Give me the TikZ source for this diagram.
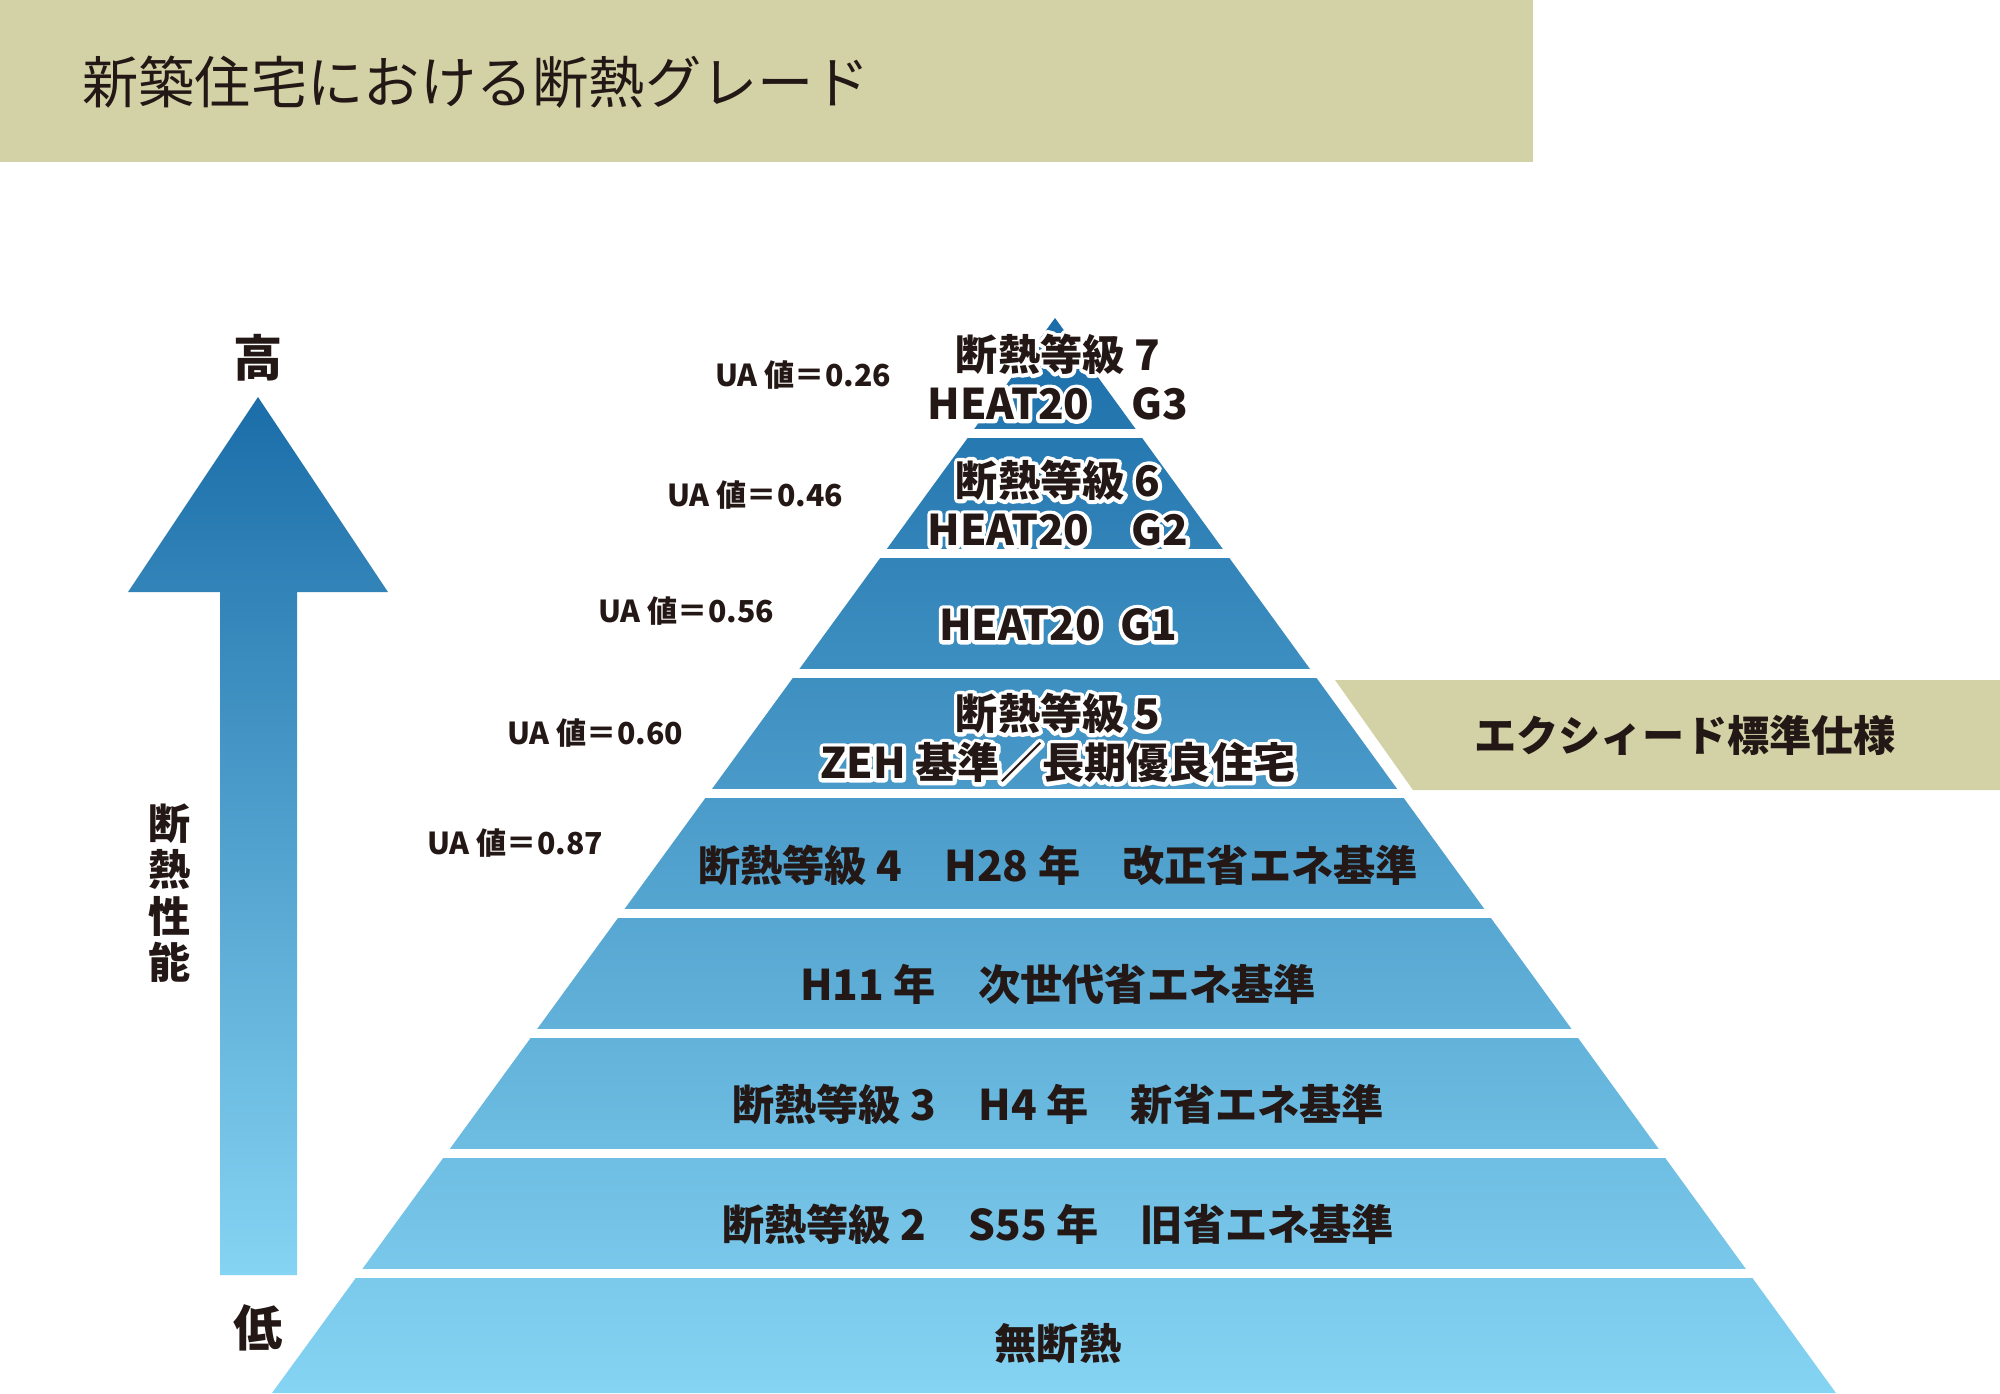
\documentclass[tikz,border=0pt]{standalone}
\usepackage{fontspec}
\setmainfont{Noto Sans CJK JP}
\usetikzlibrary{calc}
\definecolor{khaki}{HTML}{D2D2A6}
\definecolor{deepblue}{HTML}{1A6DA8}
\definecolor{paleblue}{HTML}{86D4F3}
\definecolor{ink}{HTML}{231815}
% white outlined text
\newcommand\outl[1]{\makebox[0pt][l]{\special{pdf:literal direct q 1 Tr 1 1 1 RG 2.2 w 1 j}#1\special{pdf:literal direct Q}}#1}
\tikzset{
  band/.style={font=\bfseries\fontsize{12}{14}\selectfont, text=ink, align=center},
  ua/.style={font=\bfseries\fontsize{8.6}{10}\selectfont, text=ink},
  gap/.style={white, line width=0.09cm},
}
\begin{document}
\begin{tikzpicture}[x=0.01cm, y=-0.01cm]
  \useasboundingbox (0,0) rectangle (2000,1393);
  % header
  \fill[khaki] (0,0) rectangle (1533,162);
  \node[anchor=west, text=ink, font=\fontsize{16}{18}\selectfont] (title) at (70,82) {新築住宅における断熱グレード};

  % pyramid
  \shade[top color=deepblue, bottom color=paleblue] (1055,318) -- (1836,1393) -- (272,1393) -- cycle;
  \foreach \y in {433,553,673,793,913,1033,1153,1273}
    \draw[gap] (200,\y) -- (1900,\y);

  % tag
  \fill[khaki] (1335,680) -- (2000,680) -- (2000,790) -- (1413,790) -- cycle;
  \node[band] (tag) at (1685,735) {エクシィード標準仕様};

  % labels
  \node[band] (g7) at (1058,377) {\outl{断熱等級 7}\\\outl{HEAT20\quad G3}};
  \node[band] (g6) at (1058,503) {\outl{断熱等級 6}\\\outl{HEAT20\quad G2}};
  \node[band] (g1) at (1058,625) {\outl{HEAT20\ \ G1}};
  \node[band] (g5) at (1058,738) {\outl{断熱等級 5}\\\outl{ZEH 基準／長期優良住宅}};
  \node[band] (g4) at (1058,865) {断熱等級 4\quad H28 年\quad 改正省エネ基準};
  \node[band] (h11) at (1058,984) {H11 年\quad 次世代省エネ基準};
  \node[band] (g3) at (1058,1104) {断熱等級 3\quad H4 年\quad 新省エネ基準};
  \node[band] (g2) at (1058,1224) {断熱等級 2\quad S55 年\quad 旧省エネ基準};
  \node[band] (none) at (1058,1343) {無断熱};

  % UA values
  \node[ua] (ua7) at (803,375) {UA 値＝0.26};
  \node[ua] (ua6) at (755,495) {UA 値＝0.46};
  \node[ua] (ua1) at (686,611) {UA 値＝0.56};
  \node[ua] (ua5) at (595,733) {UA 値＝0.60};
  \node[ua] (ua4) at (515,843) {UA 値＝0.87};

  % performance arrow
  \shade[top color=deepblue, bottom color=paleblue] (258,397) -- (388,592) -- (297,592) -- (297,1275) -- (220,1275) -- (220,592) -- (128,592) -- cycle;
  \node[text=ink, font=\bfseries\fontsize{14}{16}\selectfont] (high) at (258,358) {高};
  \node[text=ink, font=\bfseries\fontsize{14}{16}\selectfont] (low) at (258,1328) {低};
  \node[text=ink, font=\bfseries\fontsize{12}{13.2}\selectfont, align=center] (perf) at (170,893) {断\\熱\\性\\能};
\end{tikzpicture}
\end{document}
